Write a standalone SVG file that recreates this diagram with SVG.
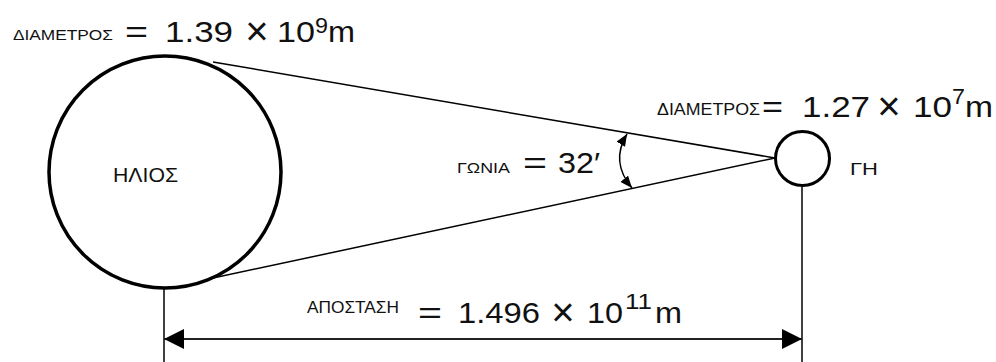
<svg xmlns="http://www.w3.org/2000/svg" width="996" height="362" viewBox="0 0 996 362">
<style>
  .t { font-family: "Liberation Sans", Arial, sans-serif; fill: #111; }
  .x { font-family: "Liberation Sans", Arial, sans-serif; font-size: 40px; font-weight: 300; fill: #111; }
  .big { font-size: 30px; }
  .sup { font-size: 22px; }
  .small { font-size: 16px; }
  .body { fill: #fff; stroke: #000; }
  .ln { stroke: #000; fill: none; stroke-width: 1.5; }
</style>
<defs>
  <marker id="dimArrow" markerUnits="userSpaceOnUse" viewBox="0 0 20 20" markerWidth="20" markerHeight="20" refX="20" refY="10" orient="auto-start-reverse">
    <path d="M0,0 L20,10 L0,20 z" fill="#000"/>
  </marker>
  <marker id="angArrow" markerUnits="userSpaceOnUse" viewBox="0 0 12 10" markerWidth="12" markerHeight="10" refX="12" refY="5" orient="auto-start-reverse">
    <path d="M0,0 L12,5 L0,10 z" fill="#000"/>
  </marker>
</defs>
<rect width="996" height="362" fill="#fff"/>

<g id="connectors">
  <line class="ln" x1="213" y1="62" x2="775" y2="158"/>
  <line class="ln" x1="213" y1="278" x2="775" y2="158"/>
  <line class="ln" x1="164" y1="289" x2="164" y2="362"/>
  <line class="ln" x1="802" y1="187" x2="802" y2="362"/>
  <line x1="164" y1="339" x2="802" y2="339" stroke="#222" stroke-width="2" marker-start="url(#dimArrow)" marker-end="url(#dimArrow)"/>
  <path class="ln" d="M 627 134 Q 610 162 632 188" marker-start="url(#angArrow)" marker-end="url(#angArrow)"/>
</g>

<g id="sun">
  <circle class="body" cx="165" cy="172" r="116" stroke-width="3.5"/>
  <text class="t" x="113" y="182" font-size="20" textLength="65" lengthAdjust="spacingAndGlyphs">ΗΛΙΟΣ</text>
</g>

<g id="earth">
  <circle class="body" cx="802.5" cy="158.5" r="27" stroke-width="3"/>
  <text class="t small" x="850" y="175" textLength="28" lengthAdjust="spacingAndGlyphs">ΓΗ</text>
</g>

<g id="sun-diameter">
  <text class="t" x="13" y="40" font-size="15" textLength="100" lengthAdjust="spacingAndGlyphs">ΔΙΑΜΕΤΡΟΣ</text>
  <text class="t big" x="125" y="42" textLength="23" lengthAdjust="spacingAndGlyphs">=</text>
  <text class="t big" x="165" y="42" textLength="68" lengthAdjust="spacingAndGlyphs">1.39</text>
  <text class="x" x="257" y="45" text-anchor="middle">×</text>
  <text class="t big" x="277" y="42" textLength="38" lengthAdjust="spacingAndGlyphs">10</text>
  <text class="t sup" x="315" y="33" textLength="13" lengthAdjust="spacingAndGlyphs">9</text>
  <text class="t big" x="328" y="42" textLength="27" lengthAdjust="spacingAndGlyphs">m</text>
</g>

<g id="earth-diameter">
  <text class="t small" x="657" y="115" textLength="103" lengthAdjust="spacingAndGlyphs">ΔΙΑΜΕΤΡΟΣ</text>
  <text class="t big" x="762" y="117" textLength="21" lengthAdjust="spacingAndGlyphs">=</text>
  <text class="t big" x="802" y="117" textLength="68" lengthAdjust="spacingAndGlyphs">1.27</text>
  <text class="x" x="889" y="120" text-anchor="middle">×</text>
  <text class="t big" x="913" y="117" textLength="39" lengthAdjust="spacingAndGlyphs">10</text>
  <text class="t sup" x="952" y="104" textLength="13" lengthAdjust="spacingAndGlyphs">7</text>
  <text class="t big" x="965" y="117" textLength="28" lengthAdjust="spacingAndGlyphs">m</text>
</g>

<g id="angle">
  <text class="t" x="457" y="173" font-size="15" textLength="53" lengthAdjust="spacingAndGlyphs">ΓΩΝΙΑ</text>
  <text class="t big" x="523" y="173" textLength="24" lengthAdjust="spacingAndGlyphs">=</text>
  <text class="t big" x="558" y="173" textLength="42" lengthAdjust="spacingAndGlyphs">32′</text>
</g>

<g id="distance">
  <text class="t small" x="307" y="313" textLength="92" lengthAdjust="spacingAndGlyphs">ΑΠΟΣΤΑΣΗ</text>
  <text class="t big" x="418" y="323" textLength="24" lengthAdjust="spacingAndGlyphs">=</text>
  <text class="t big" x="458" y="323" textLength="82" lengthAdjust="spacingAndGlyphs">1.496</text>
  <text class="x" x="563" y="326" text-anchor="middle">×</text>
  <text class="t big" x="587" y="323" textLength="36" lengthAdjust="spacingAndGlyphs">10</text>
  <text class="t sup" x="625" y="309" textLength="27" lengthAdjust="spacingAndGlyphs">11</text>
  <text class="t big" x="655" y="323" textLength="27" lengthAdjust="spacingAndGlyphs">m</text>
</g>
</svg>
